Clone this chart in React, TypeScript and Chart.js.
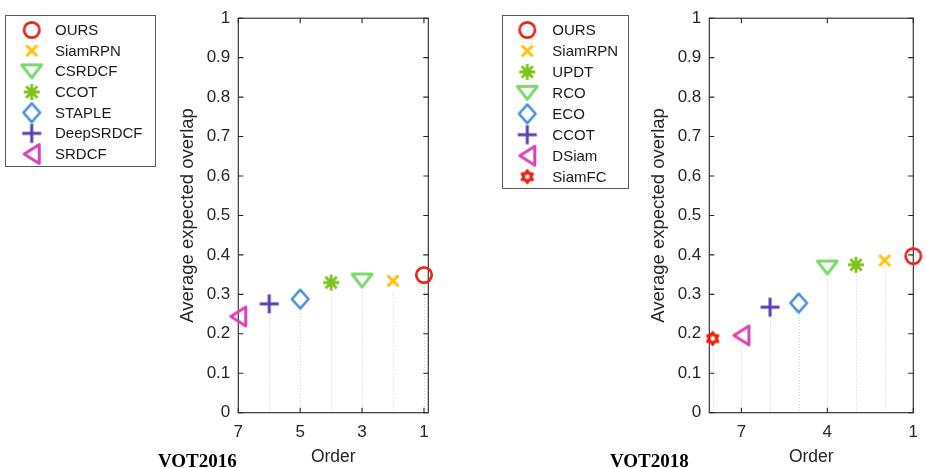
import React, { useEffect, useRef } from 'react';
import { Chart, registerables } from 'chart.js';

Chart.register(...registerables);

const FONT = '"Liberation Sans", Arial, Helvetica, sans-serif';
const SERIF = '"Liberation Serif", "Times New Roman", Times, serif';

// ---- VOT2016 ----
const trackers2016 = ['OURS', 'SiamRPN', 'CSRDCF', 'CCOT', 'STAPLE', 'DeepSRDCF', 'SRDCF'];
const order2016 = [1, 2, 3, 4, 5, 6, 7];
const eao2016 = [0.349, 0.334, 0.335, 0.33, 0.288, 0.276, 0.244];
const markers2016 = ['circle', 'x', 'triDown', 'asterisk', 'diamond', 'plus', 'triLeft'];
const colors2016 = ['#e5251f', '#ffc20e', '#7ed86e', '#7fc31c', '#4a90d8', '#5a3fb0', '#d942b8'];
const xTicks2016 = [7, 5, 3, 1];

// ---- VOT2018 ----
const trackers2018 = ['OURS', 'SiamRPN', 'UPDT', 'RCO', 'ECO', 'CCOT', 'DSiam', 'SiamFC'];
const order2018 = [1, 2, 3, 4, 5, 6, 7, 8];
const eao2018 = [0.397, 0.386, 0.375, 0.368, 0.278, 0.2675, 0.196, 0.188];
const markers2018 = ['circle', 'x', 'asterisk', 'triDown', 'diamond', 'plus', 'triLeft', 'hexagram'];
const colors2018 = ['#e5251f', '#ffc20e', '#7fc31c', '#7ed86e', '#4a90d8', '#5a3fb0', '#d942b8', '#e8200c'];
const xTicks2018 = [7, 4, 1];

const yTicks = [0, 0.1, 0.2, 0.3, 0.4, 0.5, 0.6, 0.7, 0.8, 0.9, 1];
const yTickLabels = ['0', '0.1', '0.2', '0.3', '0.4', '0.5', '0.6', '0.7', '0.8', '0.9', '1'];

const xTitle = 'Order';
const yTitle = 'Average expected overlap';

function makeMarker(kind: string, color: string): HTMLCanvasElement {
  const S = 30;
  const c = document.createElement('canvas');
  c.width = S;
  c.height = S;
  const g = c.getContext('2d')!;
  g.translate(S / 2, S / 2);
  g.strokeStyle = color;
  g.lineJoin = 'round';
  g.lineCap = 'butt';
  g.beginPath();
  switch (kind) {
    case 'circle':
      g.lineWidth = 2.7;
      g.arc(0, 0, 7.7, 0, Math.PI * 2);
      break;
    case 'x':
      g.lineWidth = 3;
      g.moveTo(-5.5, -5.5); g.lineTo(5.5, 5.5);
      g.moveTo(5.5, -5.5); g.lineTo(-5.5, 5.5);
      break;
    case 'plus':
      g.lineWidth = 3;
      g.moveTo(-9.5, 0); g.lineTo(9.5, 0);
      g.moveTo(0, -9.5); g.lineTo(0, 9.5);
      break;
    case 'asterisk': {
      g.lineWidth = 2.9;
      for (let k = 0; k < 4; k++) {
        const a = (k * Math.PI) / 4;
        const r = 8;
        g.moveTo(-Math.cos(a) * r, -Math.sin(a) * r);
        g.lineTo(Math.cos(a) * r, Math.sin(a) * r);
      }
      break;
    }
    case 'triDown':
      g.lineWidth = 3;
      g.moveTo(-10, -6.5); g.lineTo(10, -6.5); g.lineTo(0, 6.5); g.closePath();
      break;
    case 'triLeft':
      g.lineWidth = 3;
      g.moveTo(-7.5, 0); g.lineTo(7.5, -9.5); g.lineTo(7.5, 9.5); g.closePath();
      break;
    case 'diamond':
      g.lineWidth = 2.6;
      g.moveTo(0, -9.3); g.lineTo(8.3, 0); g.lineTo(0, 9.3); g.lineTo(-8.3, 0); g.closePath();
      break;
    case 'hexagram': {
      g.lineWidth = 3;
      const R = 6;
      const r = R / Math.sqrt(3);
      for (let k = 0; k < 12; k++) {
        const a = -Math.PI / 2 + (k * Math.PI) / 6;
        const rr = k % 2 === 0 ? R : r;
        const px = Math.cos(a) * rr;
        const py = Math.sin(a) * rr;
        if (k === 0) g.moveTo(px, py); else g.lineTo(px, py);
      }
      g.closePath();
      break;
    }
  }
  g.stroke();
  return c;
}

const stemPlugin = {
  id: 'stems',
  beforeDatasetsDraw(chart: any) {
    const { ctx } = chart;
    const y0 = chart.scales.y.getPixelForValue(0);
    ctx.save();
    ctx.strokeStyle = '#d2d2d2';
    ctx.lineWidth = 1;
    ctx.setLineDash([1, 2]);
    chart.data.datasets.forEach((_ds: any, i: number) => {
      const meta = chart.getDatasetMeta(i);
      meta.data.forEach((pt: any) => {
        const px = Math.round(pt.x) + 0.5;
        ctx.beginPath();
        ctx.moveTo(px, pt.y + 11);
        ctx.lineTo(px, y0);
        ctx.stroke();
      });
    });
    ctx.restore();
  },
};

const framePlugin = {
  id: 'frame',
  beforeDatasetsDraw(chart: any) {
    const { ctx, chartArea: a, scales } = chart;
    const xs = scales.x;
    const ys = scales.y;
    ctx.save();
    ctx.strokeStyle = '#262626';
    ctx.lineWidth = 1.1;
    ctx.strokeRect(a.left, a.top, a.right - a.left, a.bottom - a.top);
    const tl = 5;
    ctx.beginPath();
    ys.ticks.forEach((t: any) => {
      const py = ys.getPixelForValue(t.value);
      ctx.moveTo(a.left, py); ctx.lineTo(a.left + tl, py);
      ctx.moveTo(a.right, py); ctx.lineTo(a.right - tl, py);
    });
    xs.ticks.forEach((t: any) => {
      const px = xs.getPixelForValue(t.value);
      ctx.moveTo(px, a.bottom); ctx.lineTo(px, a.bottom - tl);
      ctx.moveTo(px, a.top); ctx.lineTo(px, a.top + tl);
    });
    ctx.stroke();
    ctx.restore();
  },
};

const boxLegendPlugin = {
  id: 'boxLegend',
  afterDraw(chart: any, _args: any, o: any) {
    const ctx = chart.ctx;
    ctx.save();
    ctx.strokeStyle = '#5a5a5a';
    ctx.lineWidth = 1;
    ctx.strokeRect(o.x + 0.5, o.y + 0.5, o.w, o.h);
    ctx.font = `${o.fontSize}px ${FONT}`;
    ctx.fillStyle = '#1a1a1a';
    ctx.textBaseline = 'middle';
    ctx.textAlign = 'left';
    chart.data.datasets.forEach((ds: any, i: number) => {
      const cy = o.firstY + i * o.pitch;
      const img = ds.pointStyle as HTMLCanvasElement;
      ctx.drawImage(img, o.markerX - img.width / 2, cy - img.height / 2);
      ctx.fillText(ds.label, o.textX, cy + 1);
    });
    ctx.restore();
  },
};

const captionPlugin = {
  id: 'caption',
  afterDraw(chart: any, _args: any, o: any) {
    const ctx = chart.ctx;
    ctx.save();
    ctx.font = `bold 19px ${SERIF}`;
    ctx.fillStyle = '#000';
    ctx.textBaseline = 'alphabetic';
    ctx.textAlign = 'left';
    ctx.fillText(o.text, o.x, o.y);
    ctx.restore();
  },
};

function buildConfig(p: any) {
  const images = p.markers.map((m: string, i: number) => makeMarker(m, p.colors[i]));
  return {
    type: 'scatter',
    data: {
      datasets: p.names.map((n: string, i: number) => ({
        label: n,
        data: [{ x: p.order[i], y: p.eao[i] }],
        pointStyle: images[i],
        pointRadius: 9,
        pointHoverRadius: 9,
        backgroundColor: p.colors[i],
        borderColor: p.colors[i],
        clip: false,
      })),
    },
    options: {
      animation: false,
      responsive: false,
      devicePixelRatio: 1,
      events: [],
      layout: { padding: { left: p.padL, right: p.padR, top: 15.7, bottom: 0.3 } },
      plugins: {
        legend: { display: false },
        tooltip: { enabled: false },
        boxLegend: p.legend,
        caption: p.caption,
      },
      scales: {
        x: {
          type: 'linear',
          reverse: true,
          min: p.xMin,
          max: p.xMax,
          afterBuildTicks: (s: any) => {
            s.ticks = p.xTicks.map((v: number) => ({ value: v }));
          },
          afterFit: (s: any) => {
            s.height = 55;
          },
          grid: { display: false, drawTicks: false, tickLength: 0 },
          border: { display: false },
          ticks: {
            font: { family: FONT, size: 17 },
            color: '#262626',
            padding: 9,
            maxRotation: 0,
            autoSkip: false,
            callback: (v: number) => String(v),
          },
          title: {
            display: true,
            text: xTitle,
            font: { family: FONT, size: 17.5 },
            color: '#262626',
            padding: 0,
          },
        },
        y: {
          type: 'linear',
          min: 0,
          max: 1,
          afterBuildTicks: (s: any) => {
            s.ticks = yTicks.map((v) => ({ value: v }));
          },
          afterFit: (s: any) => {
            s.width = p.yW;
          },
          grid: { display: false, drawTicks: false, tickLength: 0 },
          border: { display: false },
          ticks: {
            font: { family: FONT, size: 17 },
            color: '#262626',
            padding: 8,
            autoSkip: false,
            callback: (v: number) => {
              const idx = yTicks.indexOf(v);
              return idx >= 0 ? yTickLabels[idx] : String(v);
            },
          },
          title: {
            display: true,
            text: yTitle,
            font: { family: FONT, size: 18.5 },
            color: '#262626',
            padding: 0,
          },
        },
      },
    },
    plugins: [stemPlugin, framePlugin, boxLegendPlugin, captionPlugin],
  };
}

export default function App() {
  const leftRef = useRef<HTMLCanvasElement>(null);
  const rightRef = useRef<HTMLCanvasElement>(null);

  useEffect(() => {
    const left = new Chart(
      leftRef.current!,
      buildConfig({
        names: trackers2016,
        order: order2016,
        eao: eao2016,
        markers: markers2016,
        colors: colors2016,
        xTicks: xTicks2016,
        xMin: 0.86,
        xMax: 7,
        padL: 176.9,
        padR: 34.7,
        yW: 61.4,
        legend: { x: 5, y: 15, w: 150, h: 151, markerX: 31.7, textX: 55, firstY: 30, pitch: 20.67, fontSize: 15 },
        caption: { text: 'VOT2016', x: 158, y: 466.5 },
      }) as any
    );
    const right = new Chart(
      rightRef.current!,
      buildConfig({
        names: trackers2018,
        order: order2018,
        eao: eao2018,
        markers: markers2018,
        colors: colors2018,
        xTicks: xTicks2018,
        xMin: 1,
        xMax: 8.12,
        padL: 184.4,
        padR: 7.7,
        yW: 61.9,
        legend: { x: 39, y: 15, w: 126, h: 173, markerX: 64.3, textX: 89.3, firstY: 30, pitch: 20.95, fontSize: 15 },
        caption: { text: 'VOT2018', x: 147, y: 466.5 },
      }) as any
    );
    return () => {
      left.destroy();
      right.destroy();
    };
  }, []);

  return (
    <div style={{ position: 'absolute', left: 0, top: 0, width: 927, height: 468, background: '#fff', overflow: 'hidden' }}>
      <canvas ref={leftRef} width={463} height={468} style={{ position: 'absolute', left: 0, top: 0 }} />
      <canvas ref={rightRef} width={464} height={468} style={{ position: 'absolute', left: 463, top: 0 }} />
    </div>
  );
}
